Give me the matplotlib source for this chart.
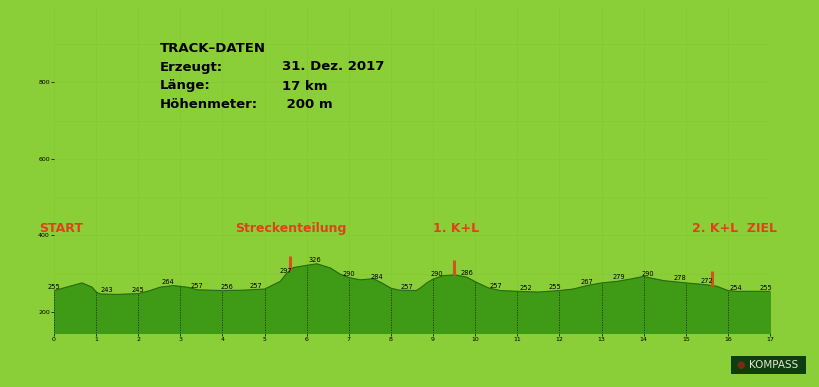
import numpy as np
import matplotlib.pyplot as plt
from matplotlib.patches import Rectangle

# Hoehenprofil (km, m)
km = [0, 0.3, 0.66, 0.9, 1.0, 1.1, 1.5, 2.0, 2.28, 2.52, 2.83, 3.0, 3.2, 3.4, 4.0, 4.5,
      5.0, 5.13, 5.37, 5.53, 5.68, 6.0, 6.24, 6.56, 6.79, 7.0, 7.27, 7.58, 7.78, 8.0, 8.2,
      8.6, 8.7, 8.85, 9.0, 9.24, 9.52, 9.8, 10.02, 10.31, 10.6, 11.0, 11.5, 12.0, 12.33,
      12.65, 13.0, 13.37, 13.68, 14.0, 14.16, 14.47, 15.0, 15.5, 15.74, 16.0, 16.2, 17.0]
hoehe = [256, 265, 276, 265, 252, 247, 246, 248, 256, 265, 269, 267, 264, 258, 256, 257,
         260, 267, 280, 302, 316, 322, 326, 315, 299, 290, 284, 287, 276, 262, 257,
         256, 263, 276, 286, 295, 297, 291, 278, 263, 256, 254, 252, 256, 260,
         269, 276, 280, 286, 293, 289, 282, 276, 271, 267, 256, 254, 254]

label_km = [0, 1.25, 2.0, 2.7, 3.4, 4.1, 4.8, 5.5, 6.2, 7.0, 7.66, 8.38, 9.1, 9.8, 10.5,
            11.2, 11.9, 12.65, 13.4, 14.1, 14.85, 15.5, 16.2, 16.9]
label_val = [255, 243, 245, 264, 257, 256, 257, 297, 326, 290, 284, 257, 290, 286, 257,
             252, 255, 267, 279, 290, 278, 272, 254, 255]

marker_km = [5.6, 9.5, 15.63]

abschnitte = [(-0.35, 'START'), (4.3, 'Streckenteilung'), (9.0, '1. K+L'), (15.15, '2. K+L  ZIEL')]

bg = '#8acf38'
fig = plt.figure(figsize=(8.2, 3.87), dpi=100, facecolor=bg)
ax = fig.add_axes([0.0659, 0.1395, 0.8731, 0.845])
ax.set_facecolor(bg)

ymin, ymax = 145, 1000
ax.fill_between(km, hoehe, ymin, color='#3f9a16', zorder=2)
ax.plot(km, hoehe, color='#2a6a10', lw=0.8, zorder=3)

for k in range(18):
    top = np.interp(k, km, hoehe)
    ax.plot([k, k], [ymin, top], color='#1a3a08', lw=0.6, ls=(0, (1.5, 1.5)), zorder=3)

for x, v in zip(label_km, label_val):
    y = np.interp(x, km, hoehe)
    ax.text(x, y + 2, str(v), fontsize=4.8, ha='center', va='bottom', color='black', zorder=5)

for x in marker_km:
    y = np.interp(x, km, hoehe)
    ax.plot([x, x], [y, y + 38], color='#d4521c', lw=2.2, zorder=4, solid_capstyle='butt')

for x, t in abschnitte:
    ax.text(x, 418, t, fontsize=9, fontweight='bold', color='#e0401a', ha='left', va='center', zorder=5)

ax.set_xlim(0, 17)
ax.set_ylim(ymin, ymax)
ax.set_xticks(range(18))
ax.set_yticks([200, 400, 600, 800])
ax.set_yticks(range(200, 1000, 100), minor=True)
ax.grid(True, which='both', color='#84c935', lw=0.5, zorder=0)
ax.tick_params(axis='both', labelsize=4.5, length=2, width=0.5, pad=1, colors='black')
ax.tick_params(which='minor', length=0)
for s in ax.spines.values():
    s.set_visible(False)

info = [('TRACK\u2013DATEN', ''), ('Erzeugt:', '31. Dez. 2017'), ('L\u00e4nge:', '17 km'),
        ('H\u00f6henmeter:', ' 200 m')]
for i, (a, b) in enumerate(info):
    yy = 1 - (48 + i * 19) / 387
    fig.text(160 / 820, yy, a, fontsize=9.5, color='black', va='center', fontweight='bold')
    if b:
        fig.text(282 / 820, yy, b, fontsize=9.5, color='black', va='center', fontweight='bold')

fig.patches.append(Rectangle((731 / 820, 1 - 374 / 387), 75 / 820, 18 / 387,
                             transform=fig.transFigure, fc='#0f3d0f', ec='none'))
fig.text(749 / 820, 1 - 365 / 387, 'KOMPASS', fontsize=7.5, color='#dfe8d0', va='center', ha='left')
fig.text(741 / 820, 1 - 365 / 387, '\u25cf', fontsize=7, color='#7a2a14', va='center', ha='center')

fig.savefig('out.png', dpi=100, facecolor=bg)
